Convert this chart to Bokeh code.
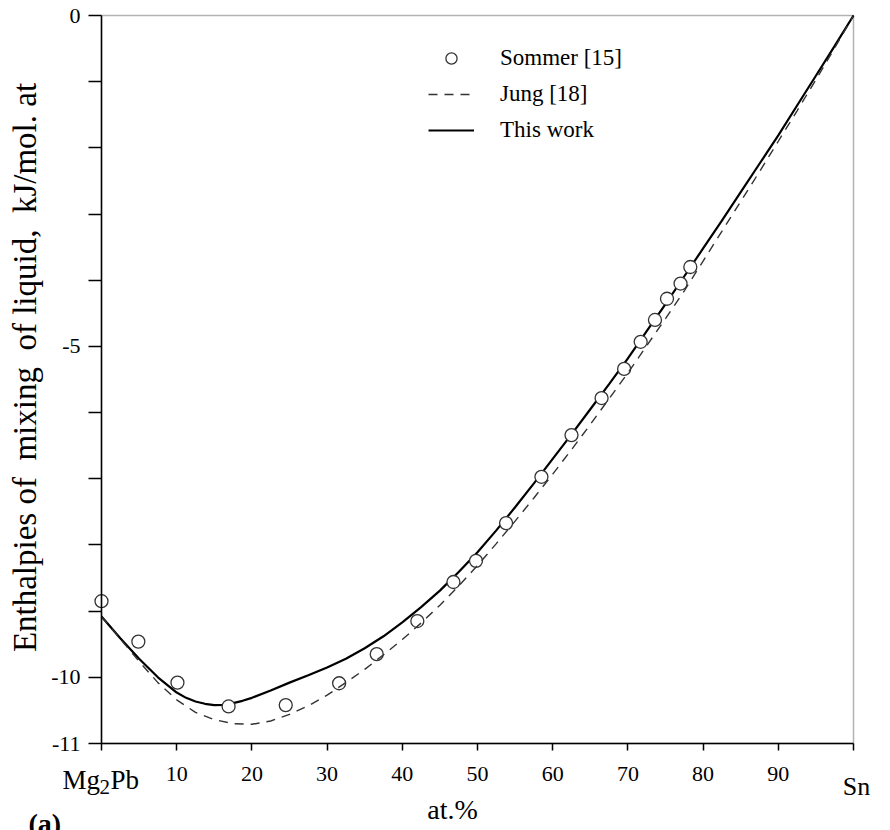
import numpy as np
from bokeh.plotting import figure
from bokeh.models import (Range1d, Label, Legend, LegendItem, FixedTicker, LinearAxis,
                          BoxAnnotation)
from bokeh.embed import file_html
from bokeh.resources import INLINE

# ---- data ----
sommer_x = [0, 4.9, 10.1, 16.9, 24.5, 31.6, 36.6, 42.0, 46.8, 49.8, 53.8,
            58.5, 62.5, 66.5, 69.5, 71.7, 73.6, 75.2, 77.0, 78.3]
sommer_y = [-8.85, -9.46, -10.08, -10.44, -10.42, -10.09, -9.65, -9.15, -8.56, -8.24, -7.67,
            -6.97, -6.34, -5.78, -5.34, -4.93, -4.60, -4.28, -4.05, -3.80]

jung_x = [0, 2.5, 5, 7.5, 10, 12.5, 15, 17.5, 20, 22.5, 25, 27.5, 30, 32.5, 35, 37.5, 40,
          42.5, 45, 47.5, 50, 52.5, 55, 57.5, 60, 62.5, 65, 67.5, 70, 72.5, 75, 77.5, 80,
          82.5, 85, 87.5, 90, 92.5, 95, 97.5, 100]
jung_y = [-9.08, -9.42, -9.76, -10.08, -10.34, -10.53, -10.64, -10.70, -10.71, -10.66, -10.56,
          -10.43, -10.27, -10.08, -9.88, -9.66, -9.43, -9.18, -8.91, -8.62, -8.31, -7.98,
          -7.64, -7.29, -6.93, -6.56, -6.18, -5.79, -5.40, -4.99, -4.58, -4.16, -3.71,
          -3.26, -2.81, -2.36, -1.90, -1.44, -0.97, -0.49, 0]

work_x = [0, 2.5, 5, 7.5, 10, 11.25, 12.5, 13.75, 15, 16.25, 17.5, 18.75, 20, 22.5, 25,
          27.5, 30, 32.5, 35, 37.5, 40, 42.5, 45, 47.5, 50, 52.5, 55, 57.5, 60, 62.5, 65,
          67.5, 70, 72.5, 75, 77.5, 80, 82.5, 85, 87.5, 90, 92.5, 95, 97.5, 100]
work_y = [-9.08, -9.41, -9.72, -10.0, -10.23, -10.31, -10.365, -10.40, -10.42, -10.415,
          -10.39, -10.355, -10.31, -10.20, -10.08, -9.97, -9.85, -9.72, -9.56, -9.38, -9.17,
          -8.94, -8.69, -8.41, -8.11, -7.78, -7.43, -7.07, -6.70, -6.33, -5.95, -5.57, -5.18,
          -4.77, -4.36, -3.94, -3.52, -3.10, -2.67, -2.24, -1.81, -1.36, -0.91, -0.46, 0]

x_ticks = [0, 10, 20, 30, 40, 50, 60, 70, 80, 90, 100]
x_tick_text = ["", "10", "20", "30", "40", "50", "60", "70", "80", "90", ""]
y_ticks = [0, -1, -2, -3, -4, -5, -6, -7, -8, -9, -10, -11]
y_tick_text = ["0", "", "", "", "", "-5", "", "", "", "", "-10", "-11"]
x_min, x_max = 0, 100
y_min, y_max = -11, 0

FONT = "Liberation Serif"
NB = "\u00a0"
W, H = 890, 830
# pixel box of the plotting area inside the page
L, R, T, B = 101, 853, 15, 743
sx = (R - L) / (x_max - x_min)
sy = (B - T) / (y_max - y_min)

p = figure(width=W, height=H,
           x_range=Range1d(x_min - L / sx, x_max + (W - R) / sx),
           y_range=Range1d(y_min - (H - B) / sy, y_max + T / sy),
           output_backend="svg", toolbar_location=None,
           x_axis_location=None, y_axis_location=None,
           min_border_left=0, min_border_right=0, min_border_top=0, min_border_bottom=0)
p.grid.visible = False
p.outline_line_color = None
p.background_fill_color = "white"
p.border_fill_color = "white"

xa = LinearAxis(fixed_location=y_min, bounds=(x_min, x_max))
xa.ticker = FixedTicker(ticks=x_ticks, minor_ticks=[])
xa.major_label_overrides = dict(zip(x_ticks, x_tick_text))
xa.major_tick_out = 7
xa.major_tick_in = 0
xa.minor_tick_out = 0
xa.minor_tick_in = 0
xa.axis_line_width = 1.5
xa.major_tick_line_width = 1.5
xa.major_label_text_font = FONT
xa.major_label_text_font_size = "22px"
xa.major_label_text_color = "black"
xa.major_label_standoff = 16
p.add_layout(xa, "below")

ya = LinearAxis(fixed_location=x_min, bounds=(y_min, y_max))
ya.ticker = FixedTicker(ticks=y_ticks, minor_ticks=[])
ya.major_label_overrides = dict(zip(y_ticks, y_tick_text))
ya.major_tick_out = 13
ya.major_tick_in = 0
ya.minor_tick_out = 0
ya.minor_tick_in = 0
ya.axis_line_width = 1.5
ya.major_tick_line_width = 1.5
ya.major_label_text_font = FONT
ya.major_label_text_font_size = "22px"
ya.major_label_text_color = "black"
ya.major_label_standoff = 8
p.add_layout(ya, "left")

p.add_layout(BoxAnnotation(left=x_min, right=x_max, bottom=y_min, top=y_max,
                           fill_alpha=0, line_color="black", line_width=1.5))

solid = p.line(work_x, work_y, line_color="black", line_width=2.2)
circ = p.scatter(sommer_x, sommer_y, marker="circle", size=13, fill_color="white",
                 line_color="#333333", line_width=1.3)
dash = p.line(jung_x, jung_y, line_color="#333333", line_width=1.4, line_dash="9 7")

legend = Legend(items=[LegendItem(label="Sommer [15]", renderers=[circ]),
                       LegendItem(label="Jung [18]", renderers=[dash]),
                       LegendItem(label="This work", renderers=[solid])],
                location=(428, H - 144), glyph_width=46, glyph_height=28, label_standoff=26,
                spacing=8, padding=0, margin=0, border_line_alpha=0, background_fill_alpha=0,
                label_text_font=FONT, label_text_font_size="23px", label_text_color="black")
p.add_layout(legend)

def lab(text, px, py, size, align="left", style="normal", angle=0):
    # px, py: pixel position of the text baseline anchor from the page's top-left
    fs = float(size.replace("px", ""))
    shift = 0.38 * fs  # the renderer draws the alphabetic baseline a bit low
    if angle == 90:
        px -= shift
    else:
        py -= shift
    p.add_layout(Label(x=px, y=H - py, x_units="screen", y_units="screen", text=text,
                       text_font=FONT, text_font_size=size, text_color="black",
                       text_align=align, text_baseline="alphabetic", angle=angle,
                       angle_units="deg", text_font_style=style))

lab("Enthalpies of" + NB + " mixing" + NB + " of liquid," + NB + " kJ/mol. at",
    37, 367, "33px", align="center", angle=90)
lab("at.%", 452, 820, "28px", align="center")
lab("Mg", 62, 790, "27px")
lab("2", 99, 794, "21px")
lab("Pb", 110, 790, "27px")
lab("Sn", 856, 796, "26px", align="center")
lab("(a)", 28, 834, "28px", style="bold")

open("out.html", "w").write(file_html(p, INLINE))
